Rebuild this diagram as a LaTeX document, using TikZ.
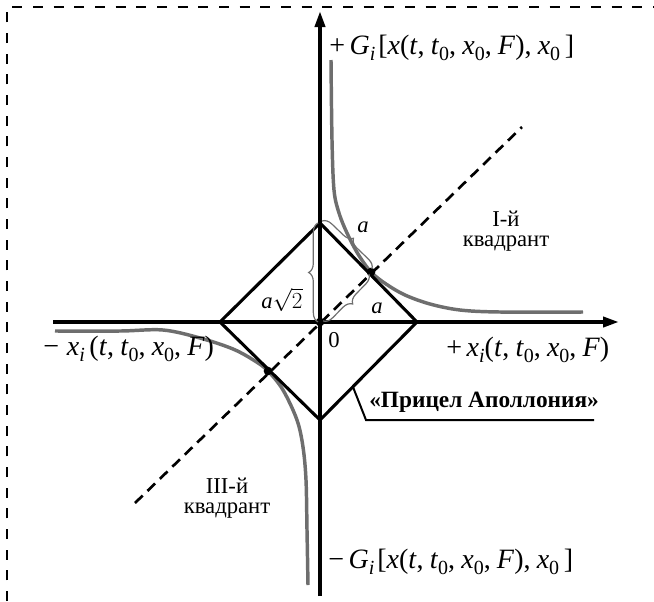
\documentclass[tikz,border=0pt]{standalone}
\usepackage{fontspec}
\setmainfont{Liberation Serif}
\usetikzlibrary{arrows.meta,decorations.pathreplacing}
\definecolor{curvegray}{RGB}{110,110,110}
\newcommand\mi[1]{\textit{#1}}
\newcommand\sbs[1]{\raisebox{-0.5ex}{\fontsize{15}{15}\selectfont #1}}
\newcommand\cs{,\hspace{0.22em}}
\begin{document}
\begin{tikzpicture}[x=0.75pt,y=-0.75pt,
  axis/.style={line width=2.8pt,-{Triangle[length=12pt,width=7.5pt]}},
  sight/.style={line width=2.3pt,line join=miter},
  hyper/.style={line width=2.6pt,curvegray},
  diag/.style={line width=2pt,dash pattern=on 8pt off 5pt},
  frame/.style={line width=1.3pt,dash pattern=on 7.5pt off 8pt},
  pt/.style={circle,fill=black,inner sep=0pt,minimum size=6.5pt},
  br/.style={decorate,decoration={brace,amplitude=7pt},curvegray,line width=0.9pt},
  lbl/.style={font=\fontsize{17}{15.5}\selectfont,inner sep=0pt},
  mlbl/.style={font=\fontsize{21}{21}\selectfont,inner sep=0pt,anchor=west},
  call/.style={line width=1.5pt}]
\useasboundingbox (0,0) rectangle (654,601);
% frame (top and left sides visible)
\coordinate (fc) at (7,7);
\coordinate (fr) at (654,7);
\coordinate (fb) at (7,601);
\draw[frame] (fb) -- (fc) -- (fr);
% diagonal
\coordinate (d1) at (135,503);
\coordinate (d2) at (522,127);
\draw[diag] (d1) -- (d2);
% curves
\draw[hyper] plot[smooth,tension=0.55] coordinates {(331,60) (332,140) (334,190) (339,213) (347,233) (358,254) (371,272) (386,284) (405,295) (430,304) (460,310) (500,312) (583,312)};
\draw[hyper] plot[smooth,tension=0.55] coordinates {(55,331) (120,331) (163,330) (200,338) (233,349) (255,361) (268,371) (283,390) (297,420) (303,447) (306,480) (307,530) (308,585)};
% axes
\coordinate (o) at (320,322);
\coordinate (xl) at (53,322);
\coordinate (xr) at (619,322);
\coordinate (yb) at (320,596);
\coordinate (yt) at (320,11);
\draw[axis] (xl) -- (xr);
\draw[axis] (yb) -- (yt);
% diamond
\coordinate (dt) at (320,223);
\coordinate (dr) at (417,322);
\coordinate (db) at (320,420);
\coordinate (dl) at (220,322);
\draw[sight] (dt) -- (dr) -- (db) -- (dl) -- cycle;
% points
\node[pt] (p1) at (371,272) {};
\node[pt] (p3) at (268,371) {};
\node[pt] (p0) at (o) {};
% braces
\draw[br] (318,322) -- (318,223);
\draw[br] (322,221) -- (372,269);
\draw[br] (369,274) -- (323,321);
% callout
\coordinate (c1) at (353,387);
\coordinate (c2) at (366,420);
\coordinate (c3) at (594,420);
\draw[call] (c1) -- (c2) -- (c3);
% labels
\node[mlbl] (gp) at (329,48) {+\,\mi{G}\sbs{\mi{i}}\hspace{0.1em}[\mi{x}(\mi{t}\cs\mi{t}\sbs{0}\cs\mi{x}\sbs{0}\cs\mi{F})\cs\mi{x}\sbs{0}\,]};
\node[mlbl] (gm) at (328,562) {−\,\mi{G}\sbs{\mi{i}}\hspace{0.1em}[\mi{x}(\mi{t}\cs\mi{t}\sbs{0}\cs\mi{x}\sbs{0}\cs\mi{F})\cs\mi{x}\sbs{0}\,]};
\node[mlbl] (xm) at (43,349) {−\;\mi{x}\sbs{\mi{i}}\,(\mi{t}\cs\mi{t}\sbs{0}\cs\mi{x}\sbs{0}\cs\mi{F})};
\node[mlbl] (xp) at (446,350) {+\,\mi{x}\sbs{\mi{i}}(\mi{t}\cs\mi{t}\sbs{0}\cs\mi{x}\sbs{0}\cs\mi{F})};
\node[lbl] (zero) at (334,340) {0};
\node[lbl] (a1) at (363,227) {\mi{a}};
\node[lbl] (a2) at (377,308) {\mi{a}};
\node[lbl] (a3) at (282,300) {\mi{a}$\sqrt{2}$};
\node[lbl,align=center] (q1) at (506,231) {I-й\\квадрант};
\node[lbl,align=center] (q3) at (227,498) {III-й\\квадрант};
\node[lbl,anchor=west,font=\fontsize{17.5}{17.5}\selectfont] (ap) at (369,402) {\textbf{«Прицел Аполлония»}};
\end{tikzpicture}
\end{document}
